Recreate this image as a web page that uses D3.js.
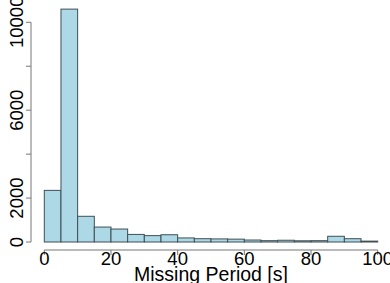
<!DOCTYPE html>
<html><head><meta charset="utf-8">
<script src="https://cdn.jsdelivr.net/npm/d3@7"></script>
<style>body{margin:0;background:#fff}svg{display:block}</style>
</head><body>
<script>
const binStarts = [0,5,10,15,20,25,30,35,40,45,50,55,60,65,70,75,80,85,90,95];
const counts = [2350,10600,1170,680,590,345,290,330,185,150,140,130,90,60,80,55,60,260,150,40];
const xTicks = [0,20,40,60,80,100];
const yTicks = [0,2000,4000,6000,8000,10000];
const yLabels = [0,2000,6000,10000];
const binWidth = 5;

const W=390,H=283;
const svg=d3.select("body").append("svg").attr("width",W).attr("height",H);
const x=d3.scaleLinear().domain([0,100]).range([44.3,377.7]);
const y=d3.scaleLinear().domain([0,10000]).range([242,22.3]);
const font="Liberation Sans, Arial, Helvetica, sans-serif";

svg.selectAll("rect.bar").data(binStarts).enter().append("rect")
  .attr("x",d=>x(d)).attr("width",d=>x(d+binWidth)-x(d))
  .attr("y",(d,i)=>y(counts[i])).attr("height",(d,i)=>y(0)-y(counts[i]))
  .attr("fill","#ADD8E6").attr("stroke","#3f4f55").attr("stroke-width",1);

// x axis
const xa=svg.append("g").attr("transform","translate(0,250)");
xa.append("line").attr("x1",x(0)).attr("x2",x(100)).attr("stroke","#777").attr("stroke-width",1);
xa.selectAll("line.t").data(xTicks).enter().append("line")
  .attr("x1",d=>x(d)).attr("x2",d=>x(d)).attr("y1",0).attr("y2",5).attr("stroke","#777");
xa.selectAll("text").data(xTicks).enter().append("text")
  .attr("x",d=>x(d)).attr("y",14.5).attr("text-anchor","middle")
  .attr("font-family",font).attr("font-size",18.5).attr("fill","#000").text(d=>d);

// y axis
const ya=svg.append("g").attr("transform","translate(31,0)");
ya.append("line").attr("y1",y(0)).attr("y2",y(10000)).attr("stroke","#777");
ya.selectAll("line.t").data(yTicks).enter().append("line")
  .attr("y1",d=>y(d)).attr("y2",d=>y(d)).attr("x1",0).attr("x2",-5).attr("stroke","#777");
ya.selectAll("text").data(yLabels).enter().append("text")
  .attr("transform",d=>`translate(-8.5,${y(d)}) rotate(-90)`).attr("text-anchor","middle")
  .attr("font-family",font).attr("font-size",18.5).attr("fill","#000").text(d=>d);

svg.append("text").attr("x",(x(0)+x(100))/2).attr("y",280.5).attr("text-anchor","middle")
  .attr("font-family",font).attr("font-size",19.5).attr("fill","#000").text("Missing Period [s]");
</script>
</body></html>
